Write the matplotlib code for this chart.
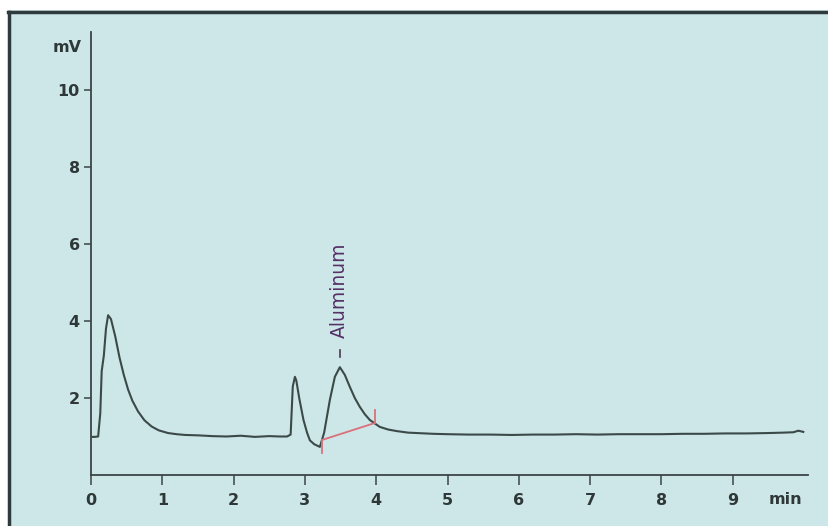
import matplotlib
matplotlib.use("Agg")
import matplotlib.pyplot as plt
from matplotlib.patches import Rectangle
from matplotlib.lines import Line2D

# ---- data ----
time_min = [0.00, 0.05, 0.10, 0.13, 0.15, 0.18, 0.21, 0.24, 0.28, 0.34, 0.40, 0.46,
            0.52, 0.58, 0.66, 0.75, 0.85, 0.95, 1.08, 1.20, 1.32, 1.50, 1.70, 1.90,
            2.10, 2.30, 2.50, 2.65, 2.75, 2.80, 2.83, 2.86, 2.88, 2.92, 2.98, 3.03,
            3.07, 3.13, 3.21, 3.27, 3.35, 3.42, 3.49, 3.56, 3.63, 3.70, 3.77, 3.84,
            3.91, 4.05, 4.17, 4.29, 4.45, 4.57, 4.80, 5.00, 5.30, 5.60, 5.90, 6.20,
            6.50, 6.80, 7.10, 7.40, 7.70, 8.00, 8.30, 8.60, 8.90, 9.20, 9.50, 9.70,
            9.85, 9.92, 9.99]
signal_mv = [0.99, 0.99, 1.00, 1.60, 2.70, 3.10, 3.80, 4.15, 4.05, 3.60, 3.05, 2.60,
             2.22, 1.93, 1.65, 1.42, 1.26, 1.16, 1.09, 1.06, 1.04, 1.03, 1.01, 1.00,
             1.02, 0.99, 1.01, 1.00, 1.00, 1.05, 2.30, 2.55, 2.45, 2.00, 1.43, 1.10,
             0.90, 0.80, 0.73, 1.10, 1.95, 2.55, 2.80, 2.60, 2.29, 2.00, 1.77, 1.58,
             1.43, 1.25, 1.18, 1.14, 1.10, 1.09, 1.07, 1.06, 1.05, 1.05, 1.04, 1.05,
             1.05, 1.06, 1.05, 1.06, 1.06, 1.06, 1.07, 1.07, 1.08, 1.08, 1.09, 1.10,
             1.11, 1.15, 1.12]

# integration baseline of the aluminum peak
baseline_t = [3.24, 3.98]
baseline_mv = [0.91, 1.35]
baseline_tick_low = [0.91, 0.57]
baseline_tick_high = [1.35, 1.69]

peak_label = "Aluminum"
peak_t = 3.49
peak_label_y = 3.55
peak_dash = [3.07, 3.25]

x_ticks = [0, 1, 2, 3, 4, 5, 6, 7, 8, 9]
y_ticks = [2, 4, 6, 8, 10]

# ---- figure ----
W, H = 829, 526
fig = plt.figure(figsize=(W / 100, H / 100), dpi=100, facecolor="white")

bg = "#cde6e8"
fig.patches.append(Rectangle((8 / W, 0), 1 - 8 / W, 1 - 10 / H, transform=fig.transFigure,
                             facecolor=bg, edgecolor="none", zorder=-10))
fig.lines.append(Line2D([9.5 / W, 9.5 / W], [0, 1 - 11.5 / H], transform=fig.transFigure,
                        color="#2e3a3b", lw=2.5))
fig.lines.append(Line2D([8 / W, 1], [1 - 11.5 / H, 1 - 11.5 / H], transform=fig.transFigure,
                        color="#2e3a3b", lw=2.5))

px_per_min = 71.3
px_per_mv = 38.5
x0_px, y0_px = 91, 475
xmax, ymax = 10.05, 11.5
ax = fig.add_axes([x0_px / W, (H - y0_px) / H, xmax * px_per_min / W, ymax * px_per_mv / H])
ax.set_facecolor("none")
ax.set_xlim(0, xmax)
ax.set_ylim(0, ymax)

for s in ["top", "right"]:
    ax.spines[s].set_visible(False)
for s in ["left", "bottom"]:
    ax.spines[s].set_color("#3a4546")
    ax.spines[s].set_linewidth(1.3)

ax.plot(time_min, signal_mv, color="#3b4a48", lw=1.5, zorder=3)

red = "#d9707a"
ax.plot(baseline_t, baseline_mv, color=red, lw=1.3, zorder=4)
ax.plot([baseline_t[0]] * 2, baseline_tick_low, color=red, lw=1.3, zorder=4)
ax.plot([baseline_t[1]] * 2, baseline_tick_high, color=red, lw=1.3, zorder=4)

ax.plot([peak_t, peak_t], peak_dash, color="#4a3a55", lw=1.2)
ax.text(peak_t, peak_label_y, peak_label, rotation=90, ha="center", va="bottom",
        color="#553068", fontsize=13.5, family=["DejaVu Sans"])

font_fam = ["Liberation Sans Narrow", "DejaVu Sans"]
ax.set_xticks(x_ticks)
ax.set_yticks(y_ticks)
ax.set_xticklabels([str(v) for v in x_ticks], family=font_fam, fontweight="bold",
                   fontsize=11.5, color="#2f3838")
ax.set_yticklabels([str(v) for v in y_ticks], family=font_fam, fontweight="bold",
                   fontsize=11.5, color="#2f3838")
ax.tick_params(axis="x", direction="out", length=7, width=1.1, color="#3a4546", pad=6)
ax.tick_params(axis="y", direction="out", length=5, width=1.1, color="#3a4546", pad=3)

fig.text(67 / W, 1 - 47 / H, "mV", ha="center", va="center", family=font_fam,
         fontweight="bold", fontsize=11.5, color="#2f3838")
fig.text(785 / W, 1 - 500 / H, "min", ha="center", va="center", family=font_fam,
         fontweight="bold", fontsize=11.5, color="#2f3838")

fig.savefig("out.png", dpi=100, facecolor="white")
